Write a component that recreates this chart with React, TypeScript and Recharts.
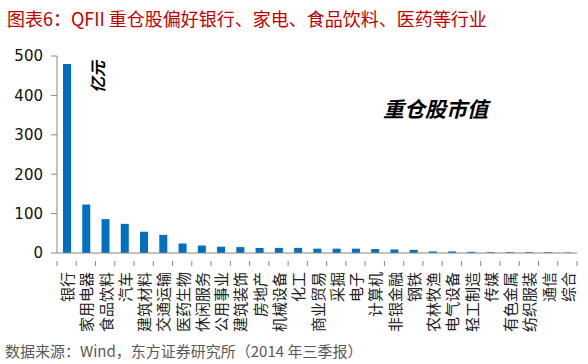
import React from "react";
import { BarChart, Bar, XAxis, YAxis } from "recharts";

const categories = [
  "银行", "家用电器", "食品饮料", "汽车", "建筑材料", "交通运输", "医药生物",
  "休闲服务", "公用事业", "建筑装饰", "房地产", "机械设备", "化工", "商业贸易",
  "采掘", "电子", "计算机", "非银金融", "钢铁", "农林牧渔", "电气设备",
  "轻工制造", "传媒", "有色金属", "纺织服装", "通信", "综合",
];
const values = [
  480, 123, 86, 74, 54, 46, 24, 19, 16, 15, 13, 13, 13, 11, 11, 11, 10, 9, 8,
  4, 4, 3, 2, 2, 2, 2, 1,
];
const yTicks = [0, 100, 200, 300, 400, 500];

const data = categories.map((name, i) => ({ name, value: values[i] }));

const W = 588;
const H = 364;
const LEFT = 57;
const RIGHT = 11;
const step = (W - LEFT - RIGHT) / categories.length;

const CJK = '"Noto Sans CJK SC", "Noto Sans", sans-serif';

// labels rotated -90deg, end of text next to the axis
function VerticalTick(props: any) {
  const { x, y, payload, index } = props;
  const isLast = index === categories.length - 1;
  const ty = y + 11;
  return (
    <g>
      <line x1={x - step / 2} y1={y} x2={x - step / 2} y2={y + 5} stroke="#868686" />
      {isLast && <line x1={x + step / 2} y1={y} x2={x + step / 2} y2={y + 5} stroke="#868686" />}
      <text
        x={x}
        y={ty}
        transform={`rotate(-90, ${x}, ${ty})`}
        textAnchor="end"
        dominantBaseline="central"
        fontSize={15}
        fill="#222"
        fontFamily={CJK}
      >
        {payload.value}
      </text>
    </g>
  );
}

export default function App() {
  return (
    <div style={{ position: "absolute", left: 0, top: 0, width: W, height: H, background: "#fff" }}>
      <div style={{ position: "absolute", left: 7, top: 5, fontFamily: CJK, fontSize: 18, color: "#C00000", whiteSpace: "nowrap" }}>
        图表6：QFII 重仓股偏好银行、家电、食品饮料、医药等行业
      </div>
      <BarChart width={W} height={H} data={data} margin={{ top: 56, right: RIGHT, left: 0, bottom: 0 }}>
        <YAxis
          width={LEFT}
          domain={[0, 500]}
          ticks={yTicks}
          interval={0}
          tickSize={6}
          tickMargin={8}
          stroke="#868686"
          tick={{ fill: "#111", fontSize: 15, fontFamily: "DejaVu Sans" }}
        />
        <XAxis
          dataKey="name"
          height={111}
          interval={0}
          tickLine={false}
          stroke="#868686"
          tick={<VerticalTick />}
        />
        <Bar dataKey="value" fill="#0070C0" barSize={8} isAnimationActive={false} />
      </BarChart>
      <div style={{ position: "absolute", left: 97, top: 77, transform: "translate(-50%, -50%) rotate(-90deg)", fontFamily: CJK, fontSize: 16, fontWeight: "bold", fontStyle: "italic", color: "#000", whiteSpace: "nowrap" }}>
        亿元
      </div>
      <div style={{ position: "absolute", left: 383, top: 93, fontFamily: CJK, fontSize: 21, fontWeight: "bold", fontStyle: "italic", color: "#000", whiteSpace: "nowrap" }}>
        重仓股市值
      </div>
      <div style={{ position: "absolute", left: 5, top: 341, fontFamily: CJK, fontSize: 15, color: "#595959", whiteSpace: "nowrap", lineHeight: "20px" }}>
        数据来源：Wind，东方证券研究所（2014 年三季报）
      </div>
    </div>
  );
}
